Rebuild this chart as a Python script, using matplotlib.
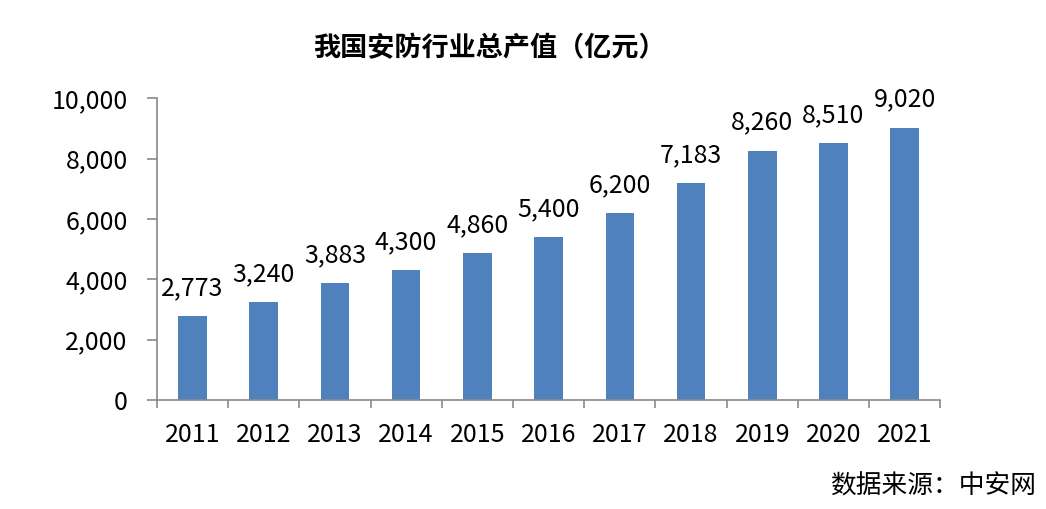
import matplotlib
matplotlib.use("Agg")
import matplotlib.pyplot as plt
import numpy as np

years = ['2011', '2012', '2013', '2014', '2015', '2016', '2017', '2018', '2019', '2020', '2021']
values = [2773, 3240, 3883, 4300, 4860, 5400, 6200, 7183, 8260, 8510, 9020]
yticks = [0, 2000, 4000, 6000, 8000, 10000]

plt.rcParams['font.family'] = ['Noto Sans CJK SC', 'DejaVu Sans']

fig = plt.figure(figsize=(10.46, 5.09), dpi=100)
ax = fig.add_axes([0.150, 0.214, 0.749, 0.593])

x = np.arange(len(years))
ax.bar(x, values, width=0.4, color='#4F81BD')
for xi, v in zip(x, values):
    ax.text(xi, v + 500, f'{v:,}', ha='center', va='bottom', fontsize=18, color='black')

ax.set_xlim(-0.5, len(years) - 0.5)
ax.set_ylim(0, 10000)
ax.set_yticks(yticks)
ax.set_yticklabels([f'{t:,}' for t in yticks], fontsize=18)
ax.set_xticks(x)
ax.set_xticklabels(years, fontsize=18)
ax.set_xticks(np.arange(len(years) + 1) - 0.5, minor=True)
ax.tick_params(axis='x', which='major', length=0, pad=16)
ax.tick_params(axis='x', which='minor', length=6, color='#898989', width=1.2)
ax.tick_params(axis='y', length=7, color='#898989', width=1.2, pad=14)

for s in ['top', 'right']:
    ax.spines[s].set_visible(False)
for s in ['left', 'bottom']:
    ax.spines[s].set_color('#898989')
    ax.spines[s].set_linewidth(1.2)

fig.text(0.468, 0.905, '我国安防行业总产值（亿元）', ha='center', va='center',
         fontsize=19.5, fontweight='bold')
fig.text(0.99, 0.045, '数据来源：中安网', ha='right', va='center', fontsize=18.5)

fig.savefig('out.png', dpi=100)
